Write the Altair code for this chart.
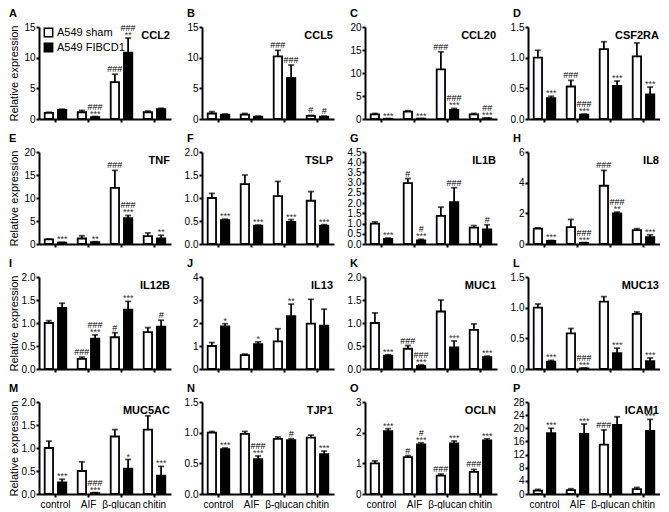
import altair as alt
import pandas as pd

FONT = "Liberation Sans"
GROUPS = ["control", "AIF", "β-glucan", "chitin"]
SERIES = ["A549 sham", "A549 FIBCD1"]
LETTERS = list("ABCDEFGHIJKLMNOP")
GENES = ["CCL2", "CCL5", "CCL20", "CSF2RA", "TNF", "TSLP", "IL1B", "IL8",
         "IL12B", "IL13", "MUC1", "MUC13", "MUC5AC", "TJP1", "OCLN", "ICAM1"]
Y_MAX = [15, 15, 20, 1.5, 20, 2.0, 4.5, 6, 2.0, 4, 2.0, 1.5, 2.0, 1.5, 3, 28]
Y_TICKS = [
    [0, 5, 10, 15], [0, 5, 10, 15], [0, 5, 10, 15, 20], [0, 0.5, 1.0, 1.5],
    [0, 5, 10, 15, 20], [0, 0.5, 1.0, 1.5, 2.0],
    [0, 0.5, 1.0, 1.5, 2.0, 2.5, 3.0, 3.5, 4.0, 4.5], [0, 2, 4, 6],
    [0, 0.5, 1.0, 1.5, 2.0], [0, 1, 2, 3, 4], [0, 0.5, 1.0, 1.5, 2.0], [0, 0.5, 1.0, 1.5],
    [0, 0.5, 1.0, 1.5, 2.0], [0, 0.5, 1.0, 1.5], [0, 1, 2, 3], [0, 4, 8, 12, 16, 20, 24, 28],
]
Y_FMT = ["d", "d", "d", ".1f", "d", ".1f", ".1f", "d", ".1f", "d", ".1f", ".1f", ".1f", ".1f", "d", "d"]

# mean, error (upward SD), significance marks per group for each series
CCL2_sham = [1.0, 1.1, 6.0, 1.1];      CCL2_sham_err = [0.1, 0.3, 1.3, 0.2];    CCL2_sham_sig = ["", "", "###", ""]
CCL2_fib = [1.5, 0.3, 10.8, 1.6];      CCL2_fib_err = [0.1, 0.1, 2.4, 0.15];    CCL2_fib_sig = ["", "###***", "###**", ""]
CCL5_sham = [0.9, 0.7, 10.2, 0.5];     CCL5_sham_err = [0.3, 0.2, 1.0, 0.1];    CCL5_sham_sig = ["", "", "###", "#"]
CCL5_fib = [0.7, 0.4, 6.7, 0.4];       CCL5_fib_err = [0.1, 0.05, 2.1, 0.05];   CCL5_fib_sig = ["", "", "###", "#"]
CCL20_sham = [1.0, 1.6, 10.8, 1.0];    CCL20_sham_err = [0.2, 0.2, 3.8, 0.2];   CCL20_sham_sig = ["", "", "###", ""]
CCL20_fib = [0.05, 0.05, 2.0, 0.15];   CCL20_fib_err = [0.02, 0.02, 0.3, 0.05]; CCL20_fib_sig = ["***", "***", "###***", "##***"]
CSF2RA_sham = [1.0, 0.53, 1.14, 1.02]; CSF2RA_sham_err = [0.12, 0.1, 0.12, 0.22]; CSF2RA_sham_sig = ["", "###", "", ""]
CSF2RA_fib = [0.34, 0.07, 0.54, 0.4];  CSF2RA_fib_err = [0.03, 0.01, 0.08, 0.12]; CSF2RA_fib_sig = ["***", "###***", "***", "***"]
TNF_sham = [1.0, 1.2, 12.2, 1.7];      TNF_sham_err = [0.1, 0.6, 3.8, 0.7];     TNF_sham_sig = ["", "", "###", ""]
TNF_fib = [0.3, 0.4, 5.6, 1.2];        TNF_fib_err = [0.05, 0.1, 0.6, 0.7];     TNF_fib_sig = ["***", "**", "###***", "**"]
TSLP_sham = [1.0, 1.3, 1.04, 0.94];    TSLP_sham_err = [0.1, 0.2, 0.32, 0.2];   TSLP_sham_sig = ["", "", "", ""]
TSLP_fib = [0.52, 0.4, 0.48, 0.4];     TSLP_fib_err = [0.02, 0.01, 0.05, 0.02]; TSLP_fib_sig = ["***", "***", "***", "***"]
IL1B_sham = [1.0, 2.98, 1.38, 0.8];    IL1B_sham_err = [0.08, 0.22, 0.42, 0.1]; IL1B_sham_sig = ["", "#", "", ""]
IL1B_fib = [0.25, 0.18, 2.05, 0.72];   IL1B_fib_err = [0.04, 0.05, 0.7, 0.22];  IL1B_fib_sig = ["***", "#***", "###", "#"]
IL8_sham = [1.0, 1.1, 3.8, 0.9];       IL8_sham_err = [0.05, 0.5, 1.0, 0.1];    IL8_sham_sig = ["", "", "###", ""]
IL8_fib = [0.2, 0.07, 2.0, 0.45];      IL8_fib_err = [0.03, 0.02, 0.08, 0.15];  IL8_fib_sig = ["***", "###***", "###**", "***"]
IL12B_sham = [1.0, 0.22, 0.69, 0.8];   IL12B_sham_err = [0.05, 0.04, 0.1, 0.1]; IL12B_sham_sig = ["", "###", "#", ""]
IL12B_fib = [1.33, 0.66, 1.29, 0.92];  IL12B_fib_err = [0.1, 0.08, 0.18, 0.14]; IL12B_fib_sig = ["", "###***", "***", "#"]
IL13_sham = [1.0, 0.6, 1.2, 1.97];     IL13_sham_err = [0.15, 0.05, 0.55, 1.06]; IL13_sham_sig = ["", "", "", ""]
IL13_fib = [1.85, 1.08, 2.3, 1.88];    IL13_fib_err = [0.12, 0.1, 0.52, 0.72];  IL13_fib_sig = ["*", "*", "**", ""]
MUC1_sham = [1.0, 0.44, 1.25, 0.85];   MUC1_sham_err = [0.22, 0.07, 0.25, 0.13]; MUC1_sham_sig = ["", "###", "", ""]
MUC1_fib = [0.29, 0.07, 0.47, 0.26];   MUC1_fib_err = [0.02, 0.02, 0.14, 0.02]; MUC1_fib_sig = ["***", "###***", "***", "***"]
MUC13_sham = [1.0, 0.58, 1.1, 0.9];    MUC13_sham_err = [0.06, 0.08, 0.08, 0.03]; MUC13_sham_sig = ["", "", "", ""]
MUC13_fib = [0.12, 0.01, 0.26, 0.13];  MUC13_fib_err = [0.02, 0.005, 0.08, 0.05]; MUC13_fib_sig = ["***", "###***", "***", "***"]
MUC5AC_sham = [1.0, 0.5, 1.25, 1.4];   MUC5AC_sham_err = [0.15, 0.2, 0.15, 0.3]; MUC5AC_sham_sig = ["", "", "", ""]
MUC5AC_fib = [0.25, 0.02, 0.55, 0.4];  MUC5AC_fib_err = [0.07, 0.01, 0.2, 0.2]; MUC5AC_fib_sig = ["***", "###***", "*", "***"]
TJP1_sham = [1.0, 0.98, 0.9, 0.92];    TJP1_sham_err = [0.02, 0.04, 0.03, 0.04]; TJP1_sham_sig = ["", "", "", ""]
TJP1_fib = [0.73, 0.57, 0.88, 0.65];   TJP1_fib_err = [0.02, 0.05, 0.02, 0.05]; TJP1_fib_sig = ["***", "###***", "#", "***"]
OCLN_sham = [1.0, 1.2, 0.6, 0.72];     OCLN_sham_err = [0.08, 0.05, 0.05, 0.08]; OCLN_sham_sig = ["", "#", "###", "###"]
OCLN_fib = [2.05, 1.62, 1.65, 1.75];   OCLN_fib_err = [0.08, 0.05, 0.08, 0.05]; OCLN_fib_sig = ["***", "#***", "***", "***"]
ICAM1_sham = [1.0, 1.2, 15.0, 1.5];    ICAM1_sham_err = [0.4, 0.4, 4.5, 0.5];   ICAM1_sham_sig = ["", "", "###", ""]
ICAM1_fib = [18.5, 18.3, 21.0, 19.2];  ICAM1_fib_err = [1.5, 3.0, 2.5, 3.5];    ICAM1_fib_sig = ["***", "***", "", "***"]

TABLE = {g: [(SERIES[0], globals()[g + "_sham"], globals()[g + "_sham_err"], globals()[g + "_sham_sig"]),
             (SERIES[1], globals()[g + "_fib"], globals()[g + "_fib_err"], globals()[g + "_fib_sig"])]
         for g in GENES}

W, H = 132, 92


def panel(i):
    gene = GENES[i]
    col, row = i % 4, i // 4
    recs = []
    for series, means, errs, sigs in TABLE[gene]:
        for g, m, e, s in zip(GROUPS, means, errs, sigs):
            recs.append(dict(group=g, series=series, mean=m, top=m + e,
                             hsh="#" * s.count("#"), stars="*" * s.count("*")))
    df = pd.DataFrame(recs)
    xs = alt.Scale(domain=GROUPS, paddingInner=0, paddingOuter=0)
    xaxis = alt.Axis(title=None, labels=(row == 3), labelAngle=0, labelPadding=2)
    x = alt.X("group:N", sort=GROUPS, scale=xs, axis=xaxis)
    xo = alt.XOffset("series:N", sort=SERIES,
                     scale=alt.Scale(domain=SERIES, paddingInner=0.37, paddingOuter=0.43))
    ys = alt.Scale(domain=[0, Y_MAX[i]], nice=False, zero=True)
    yaxis = alt.Axis(values=Y_TICKS[i], format=Y_FMT[i],
                     title="Relative expression" if col == 0 else None,
                     minExtent=19, maxExtent=19)
    y = alt.Y("mean:Q", scale=ys, axis=yaxis)
    ytop = alt.Y("top:Q", scale=ys, axis=yaxis)
    if i == 0:
        legend = alt.Legend(orient="none", legendX=4, legendY=0, title=None,
                            symbolType="square", symbolSize=70, symbolStrokeColor="black",
                            symbolStrokeWidth=1.5, labelFontSize=11, labelFont=FONT,
                            labelColor="black", rowPadding=0, labelOffset=3, padding=0)
    else:
        legend = None
    fill = alt.Fill("series:N", sort=SERIES,
                    scale=alt.Scale(domain=SERIES, range=["#fbfbff", "black"]), legend=legend)
    base = alt.Chart(df)
    bars = base.mark_bar(stroke="black", strokeWidth=1.8).encode(x=x, xOffset=xo, y=y, fill=fill)
    err = base.mark_rule(color="black", strokeWidth=1.8).encode(
        x=x, xOffset=xo, y=y, y2="top:Q")
    cap = base.mark_tick(color="black", thickness=1.8, size=6).encode(x=x, xOffset=xo, y=ytop)
    star = base.transform_filter("datum.stars != ''").mark_text(
        fontSize=9, baseline="alphabetic", dy=0, font=FONT, color="#333333").encode(
        x=x, xOffset=xo, y=ytop, text="stars:N")
    hash_lo = base.transform_filter("datum.hsh != '' && datum.stars == ''").mark_text(
        fontSize=9, baseline="alphabetic", dy=-2, font=FONT, color="black").encode(
        x=x, xOffset=xo, y=ytop, text="hsh:N")
    hash_hi = base.transform_filter("datum.hsh != '' && datum.stars != ''").mark_text(
        fontSize=9, baseline="alphabetic", dy=-7, font=FONT, color="black").encode(
        x=x, xOffset=xo, y=ytop, text="hsh:N")
    label = alt.Chart(pd.DataFrame({"gene": [gene]})).mark_text(
        align="right", baseline="middle", fontWeight="bold", fontSize=11, font=FONT,
        color="black").encode(x=alt.value(W - 1), y=alt.value(9), text="gene:N")
    return alt.layer(bars, err, cap, star, hash_lo, hash_hi, label).properties(
        width=W, height=H,
        title=alt.TitleParams(LETTERS[i], anchor="start", frame="group",
                              dx=-30 if col == 0 else -15, offset=3, fontSize=11,
                              fontWeight="bold", font=FONT, color="black"))


chart = alt.concat(*[panel(i) for i in range(16)], columns=4,
                   spacing={"row": 33, "column": 31}).resolve_scale(
    x="independent", y="independent", fill="independent").properties(
    align="each", bounds="flush", padding=0).configure_view(stroke=None).configure_axis(
    domainColor="black", domainWidth=2, tickColor="black", tickWidth=2, tickSize=3,
    labelFont=FONT, labelFontSize=10, labelColor="black", grid=False,
    titleFont=FONT, titleFontSize=11, titleFontWeight="normal", titleColor="black",
    titlePadding=1, labelPadding=1)

chart.save("out.html", embed_options={"renderer": "svg", "actions": False})
